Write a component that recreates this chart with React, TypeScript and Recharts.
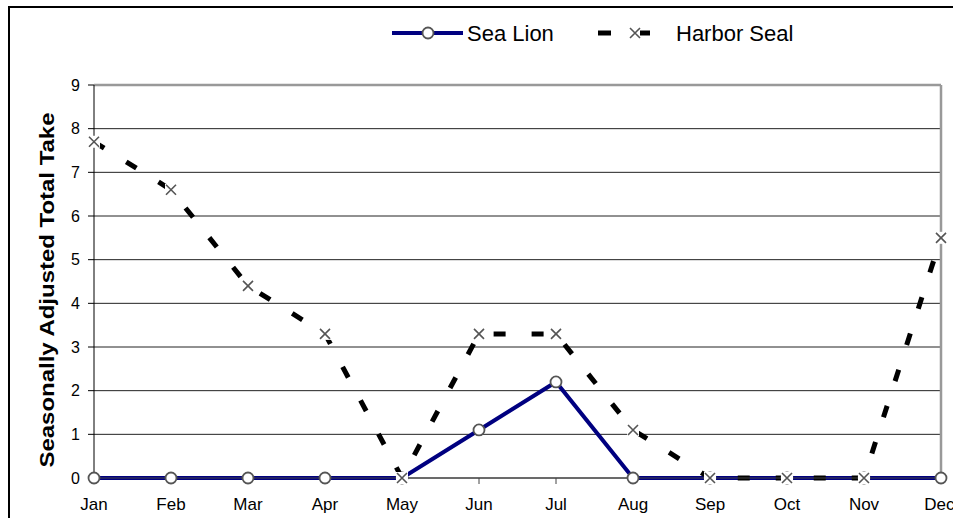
import { LineChart, Line, XAxis, YAxis, CartesianGrid, ReferenceLine } from "recharts";

const FONT = "'Liberation Sans', Arial, sans-serif";
const NAVY = "#000080";

const months = ["Jan", "Feb", "Mar", "Apr", "May", "Jun", "Jul", "Aug", "Sep", "Oct", "Nov", "Dec"];
const seaLion = [0, 0, 0, 0, 0, 1.1, 2.2, 0, 0, 0, 0, 0];
const harborSeal = [7.7, 6.6, 4.4, 3.3, 0, 3.3, 3.3, 1.1, 0, 0, 0, 5.5];
const yTicks = [0, 1, 2, 3, 4, 5, 6, 7, 8, 9];

const data = months.map((m, i) => ({ month: m, seaLion: seaLion[i], harborSeal: harborSeal[i] }));

function CircleDot(props: any) {
  const { cx, cy } = props;
  if (cx == null || cy == null) return null;
  return <circle cx={cx} cy={cy} r={5.5} fill="#fff" stroke="#555" strokeWidth={1.8} />;
}

function CrossDot(props: any) {
  const { cx, cy } = props;
  if (cx == null || cy == null) return null;
  const s = 5;
  return (
    <g>
      <rect x={cx - s - 1} y={cy - s - 1} width={2 * s + 2} height={2 * s + 2} fill="#fff" />
      <path d={`M${cx - s},${cy - s}L${cx + s},${cy + s}M${cx - s},${cy + s}L${cx + s},${cy - s}`} stroke="#555" strokeWidth={1.6} />
    </g>
  );
}

function YTitle() {
  return (
    <text
      x={46}
      y={290}
      transform="rotate(-90, 46, 290)"
      textAnchor="middle"
      dominantBaseline="central"
      fontFamily={FONT}
      fontWeight="bold"
      fontSize={21}
      fill="#000"
      textLength={355}
      lengthAdjust="spacingAndGlyphs"
    >
      Seasonally Adjusted Total Take
    </text>
  );
}

function LegendBox() {
  return (
    <svg width={953} height={60} style={{ position: "absolute", left: 0, top: 0 }}>
      <line x1={392} y1={33} x2={463} y2={33} stroke={NAVY} strokeWidth={4} />
      <circle cx={428} cy={33} r={5.5} fill="#fff" stroke="#555" strokeWidth={1.8} />
      <text x={467} y={41} fontFamily={FONT} fontSize={22} fill="#000">Sea Lion</text>
      <line x1={598} y1={33} x2={611} y2={33} stroke="#000" strokeWidth={5} />
      <line x1={640} y1={33} x2={650} y2={33} stroke="#000" strokeWidth={5} />
      <path d="M630,28L640,38M630,38L640,28" stroke="#555" strokeWidth={1.6} />
      <text x={676} y={41} fontFamily={FONT} fontSize={22} fill="#000">Harbor Seal</text>
    </svg>
  );
}

export default function App() {
  return (
    <div style={{ position: "relative", width: 953, height: 518, overflow: "hidden" }}>
      <style>{`body { margin: 0; overflow: hidden; }`}</style>
      <LineChart
        width={953}
        height={518}
        data={data}
        margin={{ top: 85, right: 12, bottom: 10, left: 0 }}
        style={{ fontFamily: FONT }}
      >
        <CartesianGrid vertical={false} stroke="#222" strokeWidth={1} />
        <XAxis
          dataKey="month"
          height={30}
          tick={{ fill: "#000", fontSize: 17 }}
          tickMargin={14}
          axisLine={{ stroke: "#444" }}
          tickLine={{ stroke: "#444" }}
        />
        <YAxis
          width={94}
          domain={[0, 9]}
          ticks={yTicks}
          interval={0}
          tick={{ fill: "#000", fontSize: 16 }}
          tickMargin={8}
          axisLine={{ stroke: "#000" }}
          tickLine={{ stroke: "#000" }}
          label={{ content: () => <YTitle /> }}
        />
        <ReferenceLine y={9} stroke="#999" strokeWidth={2.5} />
        <ReferenceLine x="Dec" stroke="#999" strokeWidth={2.5} />
        <Line
          type="linear"
          dataKey="seaLion"
          stroke={NAVY}
          strokeWidth={4}
          dot={<CircleDot />}
          activeDot={false}
          isAnimationActive={false}
        />
        <Line
          type="linear"
          dataKey="harborSeal"
          stroke="#000"
          strokeWidth={5}
          strokeDasharray="12 26"
          dot={<CrossDot />}
          activeDot={false}
          isAnimationActive={false}
        />
      </LineChart>
      <LegendBox />
      <div
        style={{
          position: "absolute",
          left: 8,
          top: 6,
          width: 945,
          height: 512,
          borderLeft: "2px solid #000",
          borderTop: "2px solid #000",
          boxSizing: "border-box",
          pointerEvents: "none",
        }}
      />
    </div>
  );
}
